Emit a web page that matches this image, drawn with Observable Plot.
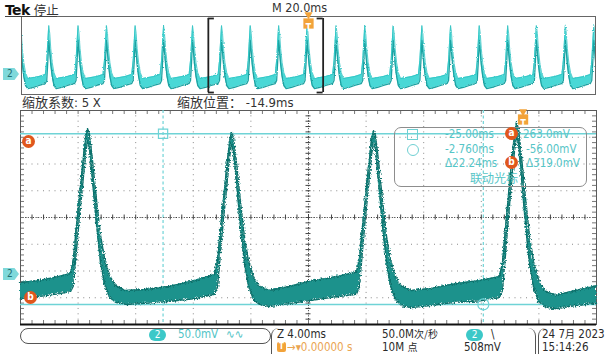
<!DOCTYPE html>
<html><head><meta charset="utf-8">
<script src="https://cdn.jsdelivr.net/npm/d3@7"></script>
<script src="https://cdn.jsdelivr.net/npm/@observablehq/plot@0.6"></script>
<style>
html,body{margin:0;padding:0;background:#fff;}
#wrap{position:relative;width:611px;height:354px;overflow:hidden;font-family:"DejaVu Sans Condensed","Liberation Sans Narrow","DejaVu Sans","Noto Sans CJK SC",sans-serif;font-stretch:condensed;color:#2a2a2a;}
#wrap svg{position:absolute;left:0;top:0;}
.abs{position:absolute;white-space:nowrap;line-height:14px;}
.sb{position:absolute;white-space:nowrap;line-height:12px;font-size:11.5px;}
.sb .cjk{font-size:10px;}
.tab{position:absolute;width:16px;height:12px;background:#7fd9db;clip-path:polygon(0 0,72% 0,100% 50%,72% 100%,0 100%);color:#1f6f72;font-size:10px;line-height:12px;text-indent:4px;font-family:"DejaVu Sans",sans-serif;}
.orb{position:absolute;width:13px;height:13px;border-radius:50%;background:#e0571d;color:#fff;font-size:10px;font-weight:bold;line-height:12px;text-align:center;font-family:"DejaVu Sans",sans-serif;}
.badge{position:absolute;width:17px;height:12px;border-radius:6px;background:#3cc8c8;color:#fff;font-size:10px;line-height:12px;text-align:center;font-family:"DejaVu Sans",sans-serif;}
.cy{color:#52c4c6;}
.cjk{font-family:"Noto Sans CJK SC",sans-serif;}
.ro{position:absolute;white-space:nowrap;font-size:11.5px;line-height:13px;color:#56c5c7;}
</style></head><body><div id="wrap"></div>
<script>
// ---------- data ----------
// Zoomed window: 4.00 ms/div, centred at zoom position -14.9 ms; channel 2 at 50.0 mV/div
const mainT = [
  -34.90, -33.51, -32.26, -31.43, -31.22, -31.01, -30.80, -30.59, -30.39, -30.25, -30.11, -29.90, -29.62, -29.34, -29.07, -28.72, -28.30, -27.61, -26.22, -24.48, -22.75,
  -21.43, -21.22, -21.01, -20.80, -20.59, -20.39, -20.25, -20.11, -19.90, -19.62, -19.34, -19.07, -18.72, -18.30, -17.61, -16.15, -14.90, -13.37,
  -11.57, -11.36, -11.15, -10.94, -10.73, -10.53, -10.39, -10.25, -10.04, -9.76, -9.48, -9.21, -8.86, -8.44, -7.75, -6.43, -4.69, -2.96,
  -1.64, -1.43, -1.22, -1.01, -0.80, -0.59, -0.46, -0.32, -0.11, 0.17, 0.45, 0.73, 1.07, 1.49, 2.25, 3.64, 5.10
];
const mainHi = [
  -15, -11, -4, 2, 30, 92, 148, 204, 254, 273, 262, 213, 138, 73, 30, -2, -21, -30, -28, -22, -11,
  0, 26, 86, 142, 198, 247, 265, 256, 209, 135, 69, 26, -6, -22, -30, -22, -13, -6,
  4, 30, 90, 146, 202, 250, 269, 260, 213, 138, 71, 28, -4, -22, -30, -26, -17, -11,
  -4, 22, 86, 150, 209, 262, 284, 273, 221, 142, 71, 24, -9, -30, -39, -30, -21
];
const mainLo = [
  -45, -41, -36, -32, -21, 45, 110, 166, 222, 250, 235, 176, 92, 22, -17, -43, -52, -56, -54, -50, -45,
  -37, -24, 41, 105, 161, 217, 243, 230, 172, 88, 19, -21, -47, -56, -60, -54, -49, -43,
  -37, -22, 45, 108, 164, 221, 247, 234, 174, 90, 21, -21, -47, -58, -62, -58, -52, -49,
  -43, -30, 37, 108, 172, 232, 258, 245, 181, 93, 19, -24, -50, -60, -64, -58, -54
];
// Overview record: 20.0 ms/div, pulse peak times (ms) and one pulse shape (offset ms, mV)
const ovPeaks = [-100.4, -90.5, -80.3, -70.4, -60.4, -50.5, -40.4, -30.3, -20.3, -10.4, -0.5, 9.6, 19.6, 29.5, 39.5, 49.5, 59.5, 69.4, 79.4, 89.5, 99.4];
const ovOffset = [-1.2, -0.7, -0.35, 0, 0.35, 0.7, 1.2, 1.8, 2.6, 4.5, 6.5, 8.7];
const ovHi = [0, 78, 178, 272, 228, 144, 67, 11, -22, -17, -11, 0];
const ovLo = [-50, -33, 67, 189, 122, 56, -11, -61, -78, -72, -61, -50];
// cursors (a/b) and settings
const cursorT = [-25.00, -2.760];
const cursorV = [263.0, -56.00];
const triggerT = 0;
const zoomCenter = -14.9;
const zoomFactor = 5;
const mainXDomain = [-34.9, 5.1];
const mainYDomain = [-93.5, 306.5];
const ovXDomain = [-100, 100];
const ovYDomain = [-111, 322];

// ---------- build ----------
const W = 611, H = 354;
const wrap = document.getElementById("wrap");
const rows = mainT.map((t, i) => ({t, hi: mainHi[i], lo: mainLo[i]}));
const ovRows = ovPeaks.flatMap(p => ovOffset.map((o, i) => ({t: p + o, hi: ovHi[i], lo: ovLo[i]})));

const gx = d3.range(1, 10).map(k => mainXDomain[0] + 4 * k);
const gy = d3.range(1, 8).map(k => mainYDomain[0] + 50 * k);
const mx = d3.range(0, 51).map(k => mainXDomain[0] + 0.8 * k);
const my = d3.range(0, 41).map(k => mainYDomain[0] + 10 * k);
const cx = zoomCenter, cyv = mainYDomain[0] + 200;
const pxT = 40 / 576, pxV = 400 / 214;
const cyan = "#6fd3d6";

const main = Plot.plot({
  width: W, height: H, marginLeft: 20, marginRight: 15, marginTop: 110, marginBottom: 30,
  x: {domain: mainXDomain, axis: null},
  y: {domain: mainYDomain, axis: null},
  style: {background: "transparent", overflow: "visible"},
  marks: [
    Plot.ruleX(gx, {stroke: "#8a8a8a", strokeDasharray: "1,4.35"}),
    Plot.ruleY(gy, {stroke: "#8a8a8a", strokeDasharray: "1,4.75"}),
    Plot.ruleX([cx], {stroke: "#3a3a3a", strokeDasharray: "1,1.6"}),
    Plot.ruleY([cyv], {stroke: "#3a3a3a", strokeDasharray: "1,1.6"}),
    Plot.ruleX(mx, {y1: cyv - 2.5 * pxV, y2: cyv + 2.5 * pxV, stroke: "#444"}),
    Plot.ruleY(my, {x1: cx - 2.5 * pxT, x2: cx + 2.5 * pxT, stroke: "#444"}),
    Plot.ruleX(mx, {y1: mainYDomain[1], y2: mainYDomain[1] - 4 * pxV, stroke: "#777"}),
    Plot.ruleX(mx, {y1: mainYDomain[0], y2: mainYDomain[0] + 4 * pxV, stroke: "#777"}),
    Plot.ruleY(my, {x1: mainXDomain[0], x2: mainXDomain[0] + 4 * pxT, stroke: "#777"}),
    Plot.ruleY(my, {x1: mainXDomain[1], x2: mainXDomain[1] - 4 * pxT, stroke: "#777"}),
    Plot.frame({stroke: "#5a5a5a"}),
    Plot.ruleY([mainYDomain[0]], {stroke: "#111", strokeWidth: 2.2}),
    Plot.ruleX(cursorT, {stroke: cyan, strokeDasharray: "3,2.5", strokeWidth: 1.2}),
    Plot.ruleY(cursorV, {stroke: cyan, strokeWidth: 1.6}),
    Plot.areaY(rows, {x: "t", y1: "lo", y2: "hi", fill: "#1c928c"}),
    Plot.line(rows, {x: "t", y: "hi", stroke: "#0f716c", strokeWidth: 1.4}),
    Plot.line(rows, {x: "t", y: "lo", stroke: "#0f716c", strokeWidth: 1.4}),
    Plot.dot([0], {x: () => cursorT[0], y: () => cursorV[0], symbol: "square", r: 5.2, stroke: cyan, fill: "none", strokeWidth: 1.2}),
    Plot.dot([0], {x: () => cursorT[1], y: () => cursorV[1], symbol: "circle", r: 5.5, stroke: cyan, fill: "none", strokeWidth: 1.2}),
    Plot.dot([triggerT], {x: d => d, frameAnchor: "top", dy: 9, symbol: "square", r: 5.8, fill: "#f2a33a"}),
    Plot.dot([triggerT], {x: d => d, frameAnchor: "top", dy: 1, symbol: "triangle", rotate: 180, r: 3, fill: "#f2a33a"}),
    Plot.text([triggerT], {x: d => d, frameAnchor: "top", dy: 9, text: () => "T", fill: "#fff", fontWeight: "bold", fontSize: 10})
  ]
});
wrap.appendChild(main);
const defs = document.createElementNS("http://www.w3.org/2000/svg", "defs");
defs.innerHTML = '<filter id="rough" x="-5%" y="-10%" width="110%" height="120%"><feTurbulence type="fractalNoise" baseFrequency="0.8 0.6" numOctaves="2" seed="4" result="n"/><feDisplacementMap in="SourceGraphic" in2="n" scale="4" xChannelSelector="R" yChannelSelector="G"/></filter>';
main.prepend(defs);
main.querySelectorAll('g[aria-label="area"], g[aria-label="line"]').forEach(g => g.setAttribute("filter", "url(#rough)"));

const zoomEdges = [zoomCenter - 20, zoomCenter + 20];
const bTop = 311, bBot = -100, serif = 2.1;
const serifs = [
  {x1: zoomEdges[0], x2: zoomEdges[0] + serif, y: bTop}, {x1: zoomEdges[0], x2: zoomEdges[0] + serif, y: bBot},
  {x1: zoomEdges[1] - serif, x2: zoomEdges[1], y: bTop}, {x1: zoomEdges[1] - serif, x2: zoomEdges[1], y: bBot}
];
const ov = Plot.plot({
  width: W, height: 100, marginLeft: 21, marginRight: 16, marginTop: 16, marginBottom: 6,
  x: {domain: ovXDomain, axis: null},
  y: {domain: ovYDomain, axis: null},
  style: {background: "transparent", overflow: "visible"},
  marks: [
    Plot.areaY(ovRows, {x: "t", y1: "lo", y2: "hi", fill: "#4ad8d6", clip: true}),
    Plot.line(ovRows, {x: "t", y: "lo", stroke: "#1ea2a2", strokeWidth: 1.3, clip: true}),
    Plot.line(ovRows, {x: "t", y: "hi", stroke: "#2ec2c2", strokeWidth: 0.8, clip: true}),
    Plot.frame({stroke: "#666"}),
    Plot.ruleX(zoomEdges, {y1: bBot, y2: bTop, stroke: "#222", strokeWidth: 1.8}),
    Plot.ruleY(serifs, {x1: "x1", x2: "x2", y: "y", stroke: "#222", strokeWidth: 1.8}),
    Plot.dot([triggerT], {x: d => d, frameAnchor: "top", dy: 7, symbol: "square", r: 5.8, fill: "#f2a33a"}),
    Plot.dot([triggerT], {x: d => d, frameAnchor: "top", dy: -2, symbol: "triangle", rotate: 180, r: 3, fill: "#f2a33a"}),
    Plot.text([triggerT], {x: d => d, frameAnchor: "top", dy: 7, text: () => "T", fill: "#fff", fontWeight: "bold", fontSize: 10})
  ]
});
wrap.appendChild(ov);
const ovDefs = document.createElementNS("http://www.w3.org/2000/svg", "defs");
ovDefs.innerHTML = '<filter id="rough2" x="-2%" y="-10%" width="104%" height="120%"><feTurbulence type="fractalNoise" baseFrequency="0.9 0.7" numOctaves="1" seed="7" result="n"/><feDisplacementMap in="SourceGraphic" in2="n" scale="2.5" xChannelSelector="R" yChannelSelector="G"/></filter>';
ov.prepend(ovDefs);
ov.querySelectorAll('g[aria-label="area"], g[aria-label="line"]').forEach(g => g.setAttribute("filter", "url(#rough2)"));

// ---------- text / decorations ----------
const f2 = v => v.toFixed(2), dT = cursorT[1] - cursorT[0], dV = cursorV[0] - cursorV[1];
const html = `
<div class="abs" style="left:5px;top:3px;font-size:14px;line-height:13px;"><b style="font-family:'DejaVu Sans',sans-serif;font-stretch:normal;letter-spacing:-0.6px;color:#111">Tek</b> <span class="cjk" style="font-size:12.5px;color:#333">停止</span></div>
<div class="abs" style="left:5px;top:16px;width:52px;height:1px;background:#444"></div>
<div class="abs" style="left:272px;top:1px;font-size:12.5px;color:#333">M 20.0ms</div>
<div class="abs" style="left:22px;top:95px;font-size:13px;color:#333"><span class="cjk">缩放系数</span>: ${zoomFactor} X</div>
<div class="abs" style="left:177px;top:95px;font-size:13px;color:#333"><span class="cjk">缩放位置：</span> ${zoomCenter.toFixed(1)}ms</div>
<div class="tab" style="left:3px;top:68px">2</div>
<div class="tab" style="left:3px;top:268px">2</div>
<div class="orb" style="left:22px;top:135px">a</div>
<div class="orb" style="left:24px;top:291px">b</div>
<div class="abs" style="left:394px;top:127px;width:191px;height:58px;border:1.5px solid #8d8d8d;border-radius:7px;"></div>
<div class="abs" style="left:407px;top:129px;width:9px;height:9px;border:1px solid #6fd0d3"></div>
<div class="abs" style="left:407px;top:144px;width:10px;height:10px;border:1px solid #6fd0d3;border-radius:50%"></div>
<div class="ro" style="left:445px;top:128px">${f2(cursorT[0])}ms</div>
<div class="ro" style="left:523px;top:128px">${cursorV[0].toFixed(1)}mV</div>
<div class="ro" style="left:445px;top:143px">${cursorT[1].toFixed(3)}ms</div>
<div class="ro" style="left:526px;top:143px">${f2(cursorV[1])}mV</div>
<div class="ro" style="left:445px;top:157px">Δ${f2(dT)}ms</div>
<div class="ro" style="left:526px;top:157px">Δ${dV.toFixed(1)}mV</div>
<div class="ro cjk" style="left:470px;top:171px;font-size:12px;">联动光标</div>
<div class="orb" style="left:505px;top:127px">a</div>
<div class="orb" style="left:505px;top:156px">b</div>
<div class="abs" style="left:20px;top:328px;width:249px;height:14px;border:1px solid #555;border-radius:8px;"></div>
<div class="abs" style="left:271px;top:328px;width:263px;height:34px;border-left:1px solid #555;border-right:1px solid #555;border-radius:8px;"></div>
<div class="abs" style="left:538px;top:328px;width:90px;height:34px;border-left:1px solid #555;border-radius:8px;"></div>
<div class="badge" style="left:149px;top:329px">2</div>
<div class="sb cy" style="left:178px;top:328px">50.0mV</div>
<div class="sb cy" style="left:226px;top:328px">∿∿</div>
<div class="sb" style="left:277px;top:328px">Z 4.00ms</div>
<div class="abs" style="left:277px;top:342px;width:9px;height:10px;background:#f2a33a;border-radius:2px;color:#fff;font-size:8px;line-height:10px;text-align:center;font-weight:bold">T</div>
<div class="sb" style="left:287px;top:341px;color:#eaa552">→▾0.00000 s</div>
<div class="sb" style="left:382px;top:328px">50.0M<span class="cjk">次/秒</span></div>
<div class="sb" style="left:382px;top:341px">10M <span class="cjk">点</span></div>
<div class="badge" style="left:466px;top:329px">2</div>
<div class="sb" style="left:491px;top:328px">\\</div>
<div class="sb" style="left:464px;top:341px">508mV</div>
<div class="sb" style="left:542px;top:328px">24 7<span class="cjk">月</span> 2023</div>
<div class="sb" style="left:542px;top:341px">15:14:26</div>
`;
wrap.insertAdjacentHTML("beforeend", html);
</script>
</body></html>
